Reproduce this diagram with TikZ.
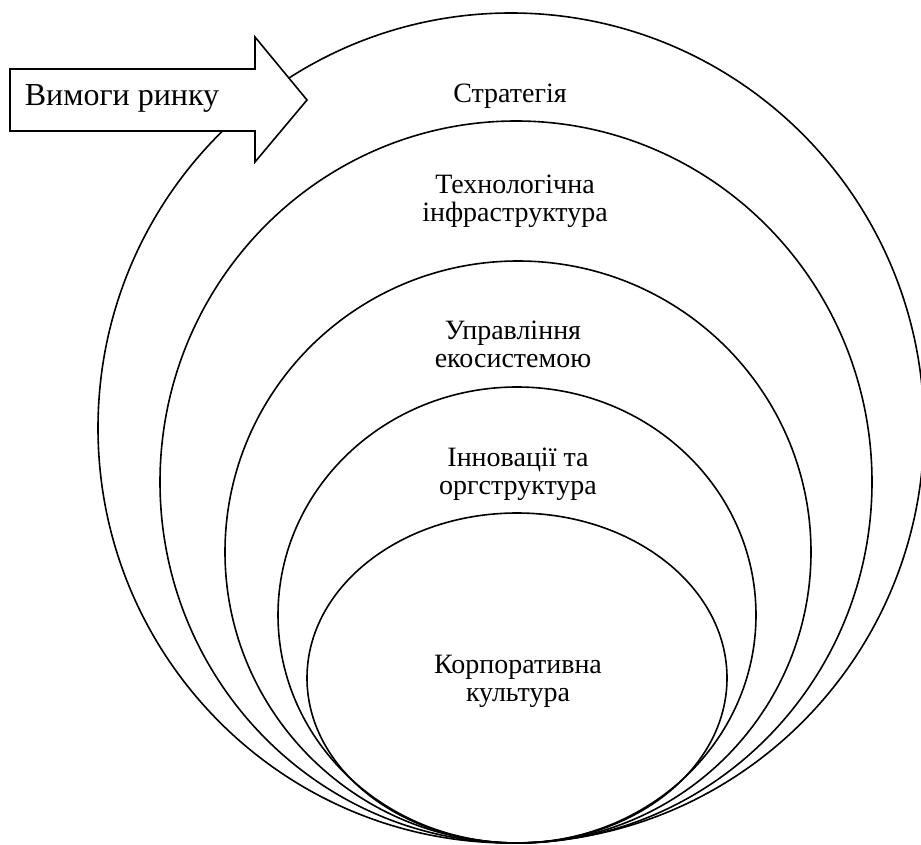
\documentclass[tikz,border=0pt]{standalone}
\usepackage{fontspec}
\setmainfont{Liberation Serif}
\usetikzlibrary{shapes.geometric}
\begin{document}
\begin{tikzpicture}[x=1pt,y=-1pt,
  ring/.style={draw, ellipse, line width=1.6pt, inner sep=0pt, minimum width=#1},
  lbl/.style={align=center, font=\fontsize{28}{28}\selectfont, inner sep=0pt},
  arrowshape/.style={draw, fill=white, line width=1.6pt, line join=miter}
]
\useasboundingbox (0,0) rectangle (921,845);

% nested rings, all touching at the bottom
\node[ring=826pt, minimum height=830pt] (r1) at (511,428) {};
\node[ring=712pt, minimum height=722pt] (r2) at (516,482) {};
\node[ring=586pt, minimum height=582pt] (r3) at (518,552) {};
\node[ring=478pt, minimum height=456pt] (r4) at (517,615) {};
\node[ring=420pt, minimum height=330pt] (r5) at (517,678) {};

% labels of the rings
\node[lbl] (t1) at (510,96) {Стратегія};
\node[lbl] (t2) at (515,201) {Технологічна\\інфраструктура};
\node[lbl] (t3) at (513,344) {Управління\\екосистемою};
\node[lbl] (t4) at (518,474) {Інновації та\\оргструктура};
\node[lbl] (t5) at (518,681) {Корпоративна\\культура};

% block arrow on top of the outer ring
\draw[arrowshape] (10,69) -- (255,69) -- (255,37) -- (307,100)
  -- (255,162) -- (255,131) -- (10,131) -- cycle;
\node[font=\fontsize{32}{36}\selectfont, inner sep=0pt] (ta) at (122,98) {Вимоги ринку};
\end{tikzpicture}
\end{document}
